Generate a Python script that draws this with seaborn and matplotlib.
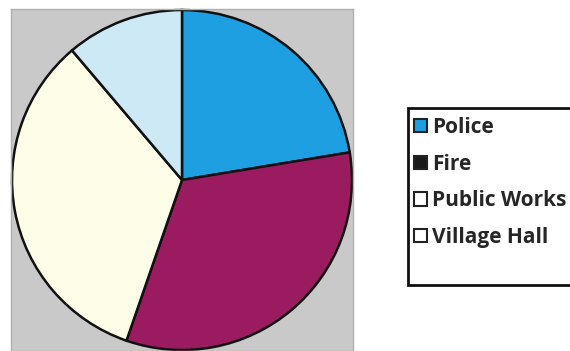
import matplotlib
matplotlib.use("Agg")
import matplotlib.pyplot as plt
import matplotlib.patches as mpatches
import seaborn as sns

# --- Daten ---
departments = ["Police", "Fire", "Public Works", "Village Hall"]
shares = [22.4, 32.9, 33.5, 11.2]
slice_colors = ["#1e9fe2", "#9b1b60", "#fefee8", "#cde9f5"]
legend_colors = ["#1e9fe2", "#1a1a1a", "#ffffff", "#ffffff"]

sns.set_theme(style="white")
plt.rcParams["font.family"] = ["Open Sans", "DejaVu Sans"]

fig = plt.figure(figsize=(5.70, 3.51), dpi=100)
fig.patch.set_facecolor("white")

# Pie-Achse mit grauem Hintergrundquadrat
W, H = 570, 351
ax = fig.add_axes([11 / W, 0 / H, 342 / W, 342 / H])
wedges, _ = ax.pie(
    shares,
    colors=slice_colors,
    startangle=90,
    counterclock=False,
    radius=1.0,
    wedgeprops=dict(edgecolor="#111111", linewidth=1.8),
)
ax.set_frame_on(True)
ax.set_facecolor("#c9c9c9")
ax.set_xlim(-1.006, 1.006)
ax.set_ylim(-1.006, 1.006)
ax.set_aspect("equal")
ax.set_xticks([])
ax.set_yticks([])
for s in ax.spines.values():
    s.set_visible(True)
    s.set_color("#b0b0b0")
    s.set_linewidth(1)

# Legendenrahmen (rechts abgeschnitten)
frame = mpatches.Rectangle(
    (408 / W, 1 - 285 / H), 170 / W, 177 / H,
    transform=fig.transFigure, facecolor="white",
    edgecolor="#111111", linewidth=2, zorder=1,
)
fig.patches.append(frame)

handles = [
    mpatches.Patch(facecolor=c, edgecolor="#222222", linewidth=1.5, label=d)
    for c, d in zip(legend_colors, departments)
]
leg = fig.legend(
    handles=handles,
    loc="upper left",
    bbox_to_anchor=(410 / W, 1 - 113 / H),
    frameon=False,
    borderaxespad=0,
    borderpad=0.2,
    handlelength=0.6,
    handleheight=0.6,
    handletextpad=0.25,
    labelspacing=0.75,
    prop=dict(weight="bold", size=15),
)
leg.set_zorder(2)

fig.savefig("out.png", dpi=100)
